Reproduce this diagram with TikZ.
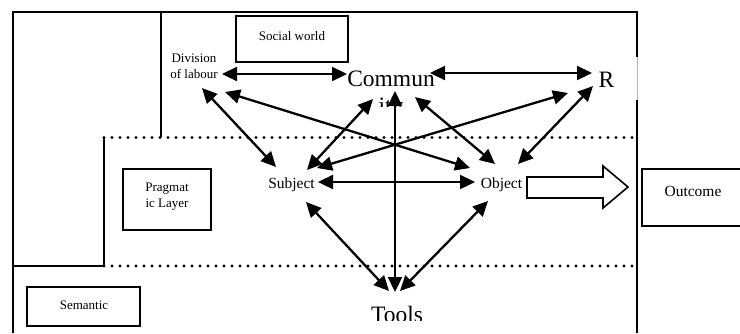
\documentclass[tikz,border=0pt]{standalone}
\usepackage{fontspec}
\setmainfont{Liberation Serif}
\usetikzlibrary{arrows.meta}
\begin{document}
\begin{tikzpicture}[x=1pt,y=-1pt,
  frame/.style={line width=2pt},
  boxn/.style={draw, line width=2pt, inner sep=0pt},
  dots/.style={line width=3.2pt, dash pattern=on 0pt off 8pt, line cap=round},
  arr/.style={line width=2.3pt, {Triangle[length=15pt,width=14pt]}-{Triangle[length=15pt,width=14pt]}},
  small/.style={inner sep=0pt, font=\fontsize{13}{16}\selectfont, align=center},
  mid/.style={inner sep=0pt, font=\fontsize{15.5}{18}\selectfont},
  big/.style={inner sep=0pt, font=\fontsize{23.5}{27}\selectfont}]
\useasboundingbox (0,0) rectangle (740,333);
% frame
\draw[frame] (13,333) -- (13,12) -- (637,12) -- (637,57);
\draw[line width=0.6pt, gray!60] (637,57) -- (637,100);
\draw[frame] (637,100) -- (637,333);
\draw[frame] (161,12) -- (161,137);
\draw[frame] (104,137) -- (104,266) -- (13,266);
\draw[dots] (104,137.5) -- (637,137.5);
\draw[dots] (104,266) -- (633,266);
% boxes
\node[boxn, minimum width=112pt, minimum height=46pt] (socialbox) at (292,39) {};
\node[small] (social) at (292,36) {Social world};
\node[boxn, minimum width=88pt, minimum height=61pt] (pragbox) at (167,199.5) {};
\node[small] (prag) at (167,197) {Pragmat\\ic Layer};
\node[boxn, minimum width=113pt, minimum height=39pt] (sembox) at (83.5,306.5) {};
\node[small] (sem) at (84,305) {Semantic};
\node[boxn, minimum width=110pt, minimum height=57pt] (outbox) at (697,197.5) {};
\node[mid] (outcome) at (693,191) {Outcome};
% labels
\node[small] (div) at (194,66) {Division\\of labour};
\node[big] (commun) at (391,78.5) {Commun};
\begin{scope}
  \clip (370,90) rectangle (415,106);
  \node[big, anchor=base] (ity) at (391,113) {ity};
\end{scope}
\node[big] (r) at (606.5,80) {R};
\node[mid] (subject) at (291.5,185) {Subject};
\node[mid] (object) at (501.5,185) {Object};
\begin{scope}
  \clip (360,295) rectangle (435,320.5);
  \node[big] (tools) at (397,314) {Tools};
\end{scope}
% hollow arrow
\draw[line width=1.6pt, line join=miter] (527,177) -- (603,177) -- (603,166) -- (628,187) -- (603,208) -- (603,198) -- (527,198) -- cycle;
% arrow ends
\coordinate (d1) at (222,74); \coordinate (c1) at (347,74);
\coordinate (c2) at (430,73); \coordinate (r1) at (592,73);
\coordinate (d2) at (202,88); \coordinate (s1) at (276,167);
\coordinate (d3) at (225,92); \coordinate (o1) at (470,168);
\coordinate (c3) at (373,99); \coordinate (s2) at (307,170);
\coordinate (r2) at (568,93); \coordinate (s3) at (317,168);
\coordinate (c4) at (415,97); \coordinate (o2) at (495,164);
\coordinate (r3) at (593,86); \coordinate (o3) at (518,164);
\coordinate (s4) at (318,182); \coordinate (o4) at (475,182);
\coordinate (c5) at (395,91); \coordinate (t1) at (395,292);
\coordinate (s5) at (306,202); \coordinate (t2) at (389,291);
\coordinate (o5) at (488,201); \coordinate (t3) at (400,291);
\draw[arr] (d1) -- (c1);
\draw[arr] (c2) -- (r1);
\draw[arr] (d2) -- (s1);
\draw[arr] (d3) -- (o1);
\draw[arr] (c3) -- (s2);
\draw[arr] (r2) -- (s3);
\draw[arr] (c4) -- (o2);
\draw[arr] (r3) -- (o3);
\draw[arr] (s4) -- (o4);
\draw[arr] (c5) -- (t1);
\draw[arr] (s5) -- (t2);
\draw[arr] (o5) -- (t3);
\end{tikzpicture}
\end{document}
